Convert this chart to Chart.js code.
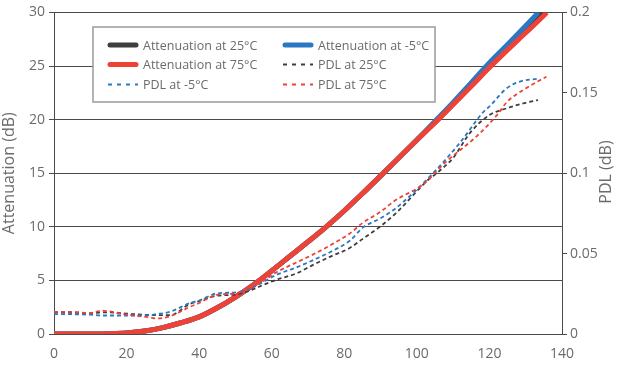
<!DOCTYPE html>
<html>
<head>
<meta charset="utf-8">
<script src="https://cdn.jsdelivr.net/npm/chart.js@4/dist/chart.umd.min.js"></script>
<style>
  html, body { margin: 0; padding: 0; background: #fff; }
  #wrap { position: relative; width: 617px; height: 367px; }
</style>
</head>
<body>
<div id="wrap"><canvas id="chart" width="617" height="367"></canvas></div>
<script>
// Attenuation curves (left axis, dB)
const att25X = [0, 10, 15, 20, 25, 30, 35, 40, 45, 50, 55, 60, 65, 70, 75, 80, 85, 90, 95, 100, 105, 110, 115, 120, 125, 130, 134.8];
const att25Y = [0, 0, 0.03, 0.1, 0.28, 0.6, 1.05, 1.6, 2.45, 3.45, 4.6, 5.9, 7.25, 8.6, 10.0, 11.5, 13.1, 14.75, 16.42, 18.1, 19.75, 21.45, 23.2, 24.95, 26.65, 28.3, 30.0];

const attM5X = [0, 10, 15, 20, 25, 30, 35, 40, 45, 50, 55, 60, 65, 70, 75, 80, 85, 90, 95, 100, 105, 110, 115, 120, 125, 130, 133.5];
const attM5Y = [0, 0, 0.03, 0.1, 0.28, 0.6, 1.05, 1.6, 2.45, 3.45, 4.6, 5.9, 7.25, 8.6, 10.0, 11.5, 13.1, 14.75, 16.42, 18.1, 19.85, 21.6, 23.45, 25.3, 27.0, 28.75, 30.0];

const att75X = [0, 10, 15, 20, 25, 30, 35, 40, 45, 50, 55, 60, 65, 70, 75, 80, 85, 90, 95, 100, 105, 110, 115, 120, 125, 130, 135, 135.8];
const att75Y = [0, 0, 0.03, 0.1, 0.28, 0.6, 1.05, 1.6, 2.45, 3.45, 4.6, 5.9, 7.25, 8.6, 10.0, 11.5, 13.1, 14.75, 16.42, 18.1, 19.7, 21.4, 23.1, 24.85, 26.5, 28.1, 29.72, 30.0];

// PDL curves (right axis, dB)
const pdl25X = [0, 10, 15, 20, 25, 28, 32, 37.5, 40, 45, 50, 54, 57.6, 61, 67, 71, 76, 81.5, 85, 90, 94.4, 102.7, 106, 110, 114.6, 120, 124.7, 129.3, 133.4];
const pdl25Y = [0.0135, 0.013, 0.0135, 0.0127, 0.0119, 0.0118, 0.0117, 0.0188, 0.0205, 0.0238, 0.0245, 0.027, 0.0305, 0.0335, 0.0379, 0.0425, 0.048, 0.0535, 0.059, 0.067, 0.0755, 0.095, 0.101, 0.1095, 0.1249, 0.1362, 0.1403, 0.1434, 0.1455];

const pdlM5X = [0, 5, 10, 13, 20, 26.4, 28, 32, 37.5, 40, 44.8, 50.3, 54, 57.6, 61, 67, 71, 76, 81.5, 85.2, 90, 94.4, 103.6, 111.8, 118.3, 120, 124.7, 128.4, 133.4];
const pdlM5Y = [0.0123, 0.0123, 0.012, 0.0115, 0.0115, 0.0117, 0.0123, 0.0138, 0.0193, 0.0208, 0.0252, 0.0259, 0.028, 0.0323, 0.0365, 0.0416, 0.0455, 0.0508, 0.058, 0.0663, 0.072, 0.0786, 0.098, 0.1187, 0.138, 0.1415, 0.1527, 0.157, 0.1588];

const pdl75X = [0, 5, 10, 13, 20, 26.4, 28, 32, 37.5, 40, 44.8, 50, 54, 57.6, 61, 67, 71, 76, 81.5, 85, 90, 94, 101.7, 108.2, 116.4, 122.4, 124.7, 130.2, 135.7];
const pdl75Y = [0.0138, 0.0138, 0.013, 0.0145, 0.012, 0.0103, 0.0097, 0.011, 0.0169, 0.0193, 0.0243, 0.0253, 0.0285, 0.033, 0.038, 0.0447, 0.049, 0.055, 0.0625, 0.069, 0.076, 0.083, 0.093, 0.1074, 0.1228, 0.137, 0.144, 0.153, 0.16];

const DARK = '#3e3e3e';
const RED = '#ee4236';
const BLUE = '#2a78c2';
const TEXT = '#6b6b6b';
const FONT = '"Open Sans", "DejaVu Sans", sans-serif';

function pts(xs, ys) {
    return xs.map((x, i) => ({ x: x, y: ys[i] }));
}

function attLine(label, xs, ys, color, order) {
    return {
        label: label, data: pts(xs, ys), yAxisID: 'y',
        borderColor: color, backgroundColor: color, borderWidth: 5,
        pointRadius: 0, cubicInterpolationMode: 'monotone', order: order,
        borderCapStyle: 'butt'
    };
}

function pdlLine(label, xs, ys, color, order) {
    return {
        label: label, data: pts(xs, ys), yAxisID: 'y1',
        borderColor: color, backgroundColor: color, borderWidth: 1.8,
        borderDash: [4, 3], pointRadius: 0, cubicInterpolationMode: 'monotone',
        order: order
    };
}

const datasets = [
    attLine('Attenuation at 25°C', att25X, att25Y, DARK, 5),
    attLine('Attenuation at -5°C', attM5X, attM5Y, BLUE, 4),
    attLine('Attenuation at 75°C', att75X, att75Y, RED, 3),
    pdlLine('PDL at 25°C', pdl25X, pdl25Y, DARK, 2),
    pdlLine('PDL at -5°C', pdlM5X, pdlM5Y, BLUE, 1),
    pdlLine('PDL at 75°C', pdl75X, pdl75Y, RED, 0)
];

// legend layout: two columns, order as in the reference
const legendCols = [
    ['Attenuation at 25°C', 'Attenuation at 75°C', 'PDL at -5°C'],
    ['Attenuation at -5°C', 'PDL at 25°C', 'PDL at 75°C']
];

const boxLegend = {
    id: 'boxLegend',
    afterDraw(chart) {
        const ctx = chart.ctx;
        ctx.save();
        ctx.fillStyle = '#fff';
        ctx.fillRect(93, 27, 342, 75);
        ctx.strokeStyle = '#9a9a9a';
        ctx.lineWidth = 1.5;
        ctx.strokeRect(93, 27, 342, 75);
        ctx.font = '12.5px ' + FONT;
        ctx.textBaseline = 'middle';
        const colX = [108, 283];
        const rowY = [45, 64.5, 84.5];
        legendCols.forEach((col, c) => {
            col.forEach((label, r) => {
                const ds = datasets.find(d => d.label === label);
                const x = colX[c], y = rowY[r];
                ctx.beginPath();
                ctx.strokeStyle = ds.borderColor;
                if (ds.borderDash) {
                    ctx.lineWidth = 2;
                    ctx.setLineDash([4, 5]);
                    ctx.lineCap = 'butt';
                    ctx.moveTo(x, y); ctx.lineTo(x + 30, y);
                } else {
                    ctx.lineWidth = 5;
                    ctx.setLineDash([]);
                    ctx.lineCap = 'round';
                    ctx.moveTo(x + 2, y); ctx.lineTo(x + 28, y);
                }
                ctx.stroke();
                ctx.setLineDash([]);
                ctx.fillStyle = TEXT;
                ctx.fillText(label, x + 35, y + 1);
            });
        });
        // right axis title, reading bottom to top
        ctx.translate(606, 172);
        ctx.rotate(-Math.PI / 2);
        ctx.textAlign = 'center';
        ctx.font = '16px ' + FONT;
        ctx.fillStyle = TEXT;
        ctx.fillText('PDL (dB)', 0, 0);
        ctx.restore();
    }
};

new Chart(document.getElementById('chart'), {
    type: 'line',
    data: { datasets: datasets },
    options: {
        responsive: false,
        animation: false,
        layout: { padding: { top: 10, left: 0, right: 0, bottom: 0 } },
        plugins: { legend: { display: false }, tooltip: { enabled: false } },
        scales: {
            x: {
                type: 'linear', min: 0, max: 140,
                ticks: { stepSize: 20, color: TEXT, font: { family: FONT, size: 14 }, padding: 4 },
                grid: { display: false },
                border: { display: false },
                afterFit: s => { s.height = 33; }
            },
            y: {
                position: 'left', min: 0, max: 30,
                ticks: { stepSize: 5, color: TEXT, font: { family: FONT, size: 14 }, padding: 4 },
                grid: { color: '#4a4a4a', lineWidth: 1, tickLength: 5 },
                border: { color: '#4a4a4a', width: 1 },
                title: { display: true, text: 'Attenuation (dB)', color: TEXT, font: { family: FONT, size: 16 }, padding: 0 },
                afterFit: s => { s.width = 54; }
            },
            y1: {
                position: 'right', min: 0, max: 0.2,
                ticks: {
                    stepSize: 0.05, color: TEXT, font: { family: FONT, size: 14 }, padding: 3,
                    callback: v => String(+v.toFixed(2))
                },
                grid: { drawOnChartArea: false, color: '#4a4a4a', tickLength: 5 },
                border: { color: '#4a4a4a', width: 1 },
                afterFit: s => { s.width = 55; }
            }
        }
    },
    plugins: [boxLegend]
});
</script>
</body>
</html>
